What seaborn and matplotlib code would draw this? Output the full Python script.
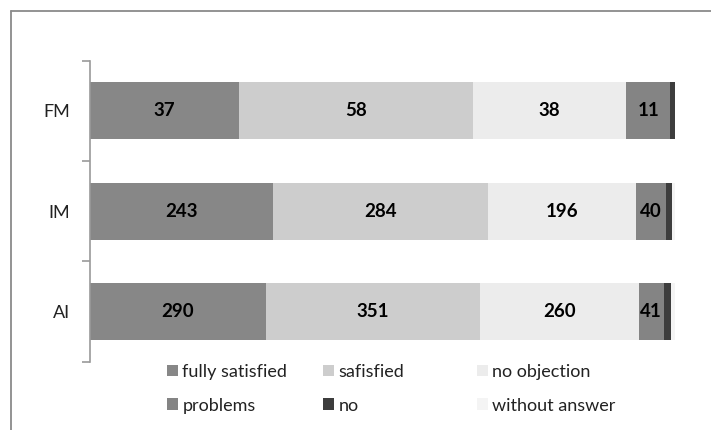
import matplotlib
matplotlib.use("Agg")
import matplotlib.pyplot as plt
from matplotlib.lines import Line2D
from matplotlib.patches import Patch
import numpy as np
import pandas as pd
import seaborn as sns

# Survey answers per group (counts)
groups = ["FM", "IM", "AI"]
responses = ["fully satisfied", "safisfied", "no objection", "problems", "no", "without answer"]
fully_satisfied = [37, 243, 290]
satisfied = [58, 284, 351]
no_objection = [38, 196, 260]
problems = [11, 40, 41]
no = [1, 8, 12]
without_answer = [0, 3, 6]
labelled = ["fully satisfied", "safisfied", "no objection", "problems"]

colors = {
    "fully satisfied": "#878787",
    "safisfied": "#cdcdcd",
    "no objection": "#ececec",
    "problems": "#848484",
    "no": "#3d3d3d",
    "without answer": "#f4f4f4",
}

counts = np.array([fully_satisfied, satisfied, no_objection, problems, no, without_answer], dtype=float)
totals = counts.sum(axis=0)
shares = counts / totals * 100
cum = np.cumsum(shares, axis=0)
start = cum - shares

rows = []
for i, r in enumerate(responses):
    for j, g in enumerate(groups):
        rows.append(dict(group=g, response=r, count=counts[i, j],
                         share=shares[i, j], cum=cum[i, j], start=start[i, j]))
df = pd.DataFrame(rows)

sns.set_theme(style="white")
plt.rcParams["font.family"] = ["Lato", "DejaVu Sans"]

fig = plt.figure(figsize=(7.11, 4.30), dpi=100)
ax = fig.add_axes([89.5 / 711, 1 - 361.7 / 430, 585 / 711, 301 / 430])

# Stacked bars: draw cumulative totals from the outermost segment inwards
for r in reversed(responses):
    sub = df[df.response == r]
    sns.barplot(data=sub, x="cum", y="group", order=groups, color=colors[r],
                width=0.57, saturation=1, ax=ax, linewidth=0, errorbar=None)

# Count labels centred in each segment
for _, row in df[df.response.isin(labelled)].iterrows():
    y = groups.index(row.group)
    ax.text(row.start + row.share / 2, y, f"{int(row['count'])}",
            ha="center", va="center", fontsize=13.5, fontweight="bold", color="black")

ax.set_xlim(0, 100)
ax.set_ylim(2.5, -0.5)
ax.set_xlabel("")
ax.set_ylabel("")
ax.set_xticks([])
for s in ["top", "right", "bottom"]:
    ax.spines[s].set_visible(False)
ax.spines["left"].set_color("#9a9a9a")
ax.spines["left"].set_linewidth(1.2)
ax.set_yticks([-0.5, 0.5, 1.5, 2.5], minor=False)
ax.set_yticklabels([])
ax.set_yticks(range(len(groups)), minor=True)
ax.set_yticklabels(groups, minor=True, fontsize=13)
ax.tick_params(axis="y", which="major", length=6, width=1.2, color="#9a9a9a", direction="out", left=True)
ax.tick_params(axis="y", which="minor", length=0, pad=14, labelcolor="#222222")

# Legend, three columns of two entries each
legend_cols = [["fully satisfied", "problems"], ["safisfied", "no"], ["no objection", "without answer"]]
col_x = [167, 323, 477]
for x, entries in zip(col_x, legend_cols):
    handles = [Patch(facecolor=colors[e], edgecolor="none") for e in entries]
    leg = fig.legend(handles, entries, loc="upper left",
                     bbox_to_anchor=(x / 711, 1 - 364 / 430), frameon=False,
                     fontsize=13, handlelength=0.6, handleheight=0.6,
                     handletextpad=0.25, labelspacing=0.97, borderaxespad=0, borderpad=0)
    for t in leg.get_texts():
        t.set_color("#222222")

# Chart area border (left and top edges)
fig.add_artist(Line2D([11 / 711, 11 / 711], [0, 1 - 11 / 430], transform=fig.transFigure,
                      color="#8a8a8a", linewidth=1.3))
fig.add_artist(Line2D([11 / 711, 1], [1 - 11 / 430, 1 - 11 / 430], transform=fig.transFigure,
                      color="#8a8a8a", linewidth=1.3))

fig.savefig("out.png", dpi=100)
